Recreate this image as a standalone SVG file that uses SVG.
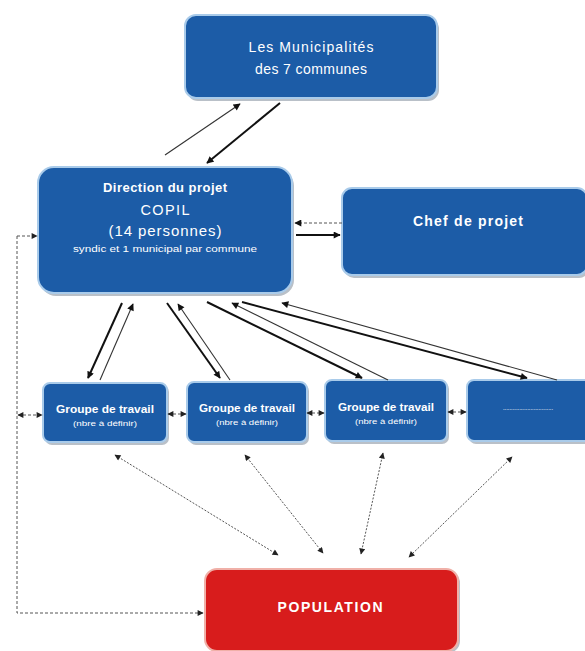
<svg xmlns="http://www.w3.org/2000/svg" width="585" height="651" viewBox="0 0 585 651">
<defs>
<marker id="ah" viewBox="0 0 10 10" refX="9" refY="5" markerWidth="8" markerHeight="7" markerUnits="userSpaceOnUse" orient="auto-start-reverse">
<path d="M0,0 L10,5 L0,10 z" fill="#111"/>
</marker>
<marker id="ahs" viewBox="0 0 10 10" refX="9" refY="5" markerWidth="7" markerHeight="6" markerUnits="userSpaceOnUse" orient="auto-start-reverse">
<path d="M0,0 L10,5 L0,10 z" fill="#222"/>
</marker>
</defs>
<style>
.box{fill:#1c5ca7;stroke:#a9cbea;stroke-width:2}
.red{fill:#d81c1c;stroke:#f0b0a8;stroke-width:2}
.sh{fill:#b9c0c8}
.t{font-family:"Liberation Sans",Arial,sans-serif;fill:#fff;text-anchor:middle}
.b{font-weight:bold}
.thick{stroke:#111;stroke-width:2;fill:none}
.thin{stroke:#333;stroke-width:1.1;fill:none}
.dot{stroke:#555;stroke-width:1;stroke-dasharray:2 1.5;fill:none}
.dash{stroke:#555;stroke-width:1;stroke-dasharray:3 2;fill:none}
</style>
<rect width="585" height="651" fill="#fff"/>

<g id="municipalites">
<rect class="sh" x="187" y="18" width="252" height="83" rx="11"/>
<rect class="box" x="185" y="15" width="252" height="83" rx="11"/>
<text class="t" x="311" y="52" font-size="14" textLength="125" lengthAdjust="spacing">Les Municipalités</text>
<text class="t" x="311" y="74" font-size="14" textLength="112" lengthAdjust="spacing">des 7 communes</text>
</g>

<g id="copil">
<rect class="sh" x="40" y="170" width="254" height="126" rx="16"/>
<rect class="box" x="38" y="167" width="254" height="126" rx="16"/>
<text class="t b" x="165" y="192" font-size="13" textLength="124" lengthAdjust="spacing">Direction du projet</text>
<text class="t" x="165" y="215" font-size="14.5" textLength="49" lengthAdjust="spacing">COPIL</text>
<text class="t" x="165" y="236" font-size="15" textLength="113" lengthAdjust="spacing">(14 personnes)</text>
<text class="t" x="165" y="252" font-size="8.5" textLength="184" lengthAdjust="spacingAndGlyphs">syndic et 1 municipal par commune</text>
</g>

<g id="chef">
<rect class="sh" x="344" y="191" width="245" height="87" rx="10"/>
<rect class="box" x="342" y="188" width="245" height="87" rx="10"/>
<text class="t b" x="468" y="226" font-size="14" textLength="110" lengthAdjust="spacing">Chef de projet</text>
</g>

<g id="groupe1">
<rect class="sh" x="45" y="385" width="124" height="60" rx="7"/>
<rect class="box" x="43" y="383" width="124" height="59" rx="7"/>
<text class="t b" x="105" y="413" font-size="11" textLength="98" lengthAdjust="spacingAndGlyphs">Groupe de travail</text>
<text class="t" x="105" y="426" font-size="7.5" textLength="64" lengthAdjust="spacingAndGlyphs">(nbre à définir)</text>
</g>

<g id="groupe2">
<rect class="sh" x="189" y="384" width="120" height="61" rx="7"/>
<rect class="box" x="187" y="382" width="120" height="60" rx="7"/>
<text class="t b" x="247" y="412" font-size="11" textLength="96" lengthAdjust="spacingAndGlyphs">Groupe de travail</text>
<text class="t" x="247" y="425" font-size="7.5" textLength="62" lengthAdjust="spacingAndGlyphs">(nbre à définir)</text>
</g>

<g id="groupe3">
<rect class="sh" x="327" y="382" width="122" height="62" rx="7"/>
<rect class="box" x="325" y="380" width="122" height="61" rx="7"/>
<text class="t b" x="386" y="411" font-size="11" textLength="96" lengthAdjust="spacingAndGlyphs">Groupe de travail</text>
<text class="t" x="386" y="424" font-size="7.5" textLength="62" lengthAdjust="spacingAndGlyphs">(nbre à définir)</text>
</g>

<g id="groupe4">
<rect class="sh" x="469" y="382" width="125" height="62" rx="7"/>
<rect class="box" x="467" y="380" width="125" height="61" rx="7"/>
<text class="t" x="528" y="410" font-size="7" textLength="50" lengthAdjust="spacingAndGlyphs">...............................</text>
</g>

<g id="population">
<rect class="sh" x="207" y="571" width="253" height="82" rx="12"/>
<rect class="red" x="205" y="569" width="253" height="82" rx="12"/>
<text class="t b" x="330" y="612" font-size="14" textLength="105" lengthAdjust="spacing">POPULATION</text>
</g>

<g id="connectors">
<line class="thin" x1="165" y1="155" x2="240" y2="104" marker-end="url(#ah)"/>
<line class="thick" x1="280" y1="103" x2="207" y2="163" marker-end="url(#ah)"/>
<line class="dash" x1="342" y1="223" x2="295" y2="223" marker-end="url(#ah)"/>
<line class="thick" x1="296" y1="235" x2="340" y2="235" marker-end="url(#ah)"/>
<line class="thick" x1="122" y1="303" x2="88" y2="378" marker-end="url(#ah)"/>
<line class="thin" x1="100" y1="380" x2="133" y2="304" marker-end="url(#ah)"/>
<line class="thick" x1="167" y1="303" x2="220" y2="378" marker-end="url(#ah)"/>
<line class="thin" x1="230" y1="380" x2="178" y2="304" marker-end="url(#ah)"/>
<line class="thick" x1="207" y1="302" x2="362" y2="378" marker-end="url(#ah)"/>
<line class="thin" x1="388" y1="380" x2="232" y2="303" marker-end="url(#ah)"/>
<line class="thick" x1="242" y1="302" x2="527" y2="378" marker-end="url(#ah)"/>
<line class="thin" x1="557" y1="380" x2="282" y2="303" marker-end="url(#ah)"/>
<line class="dash" x1="17" y1="236" x2="37" y2="236" marker-end="url(#ahs)"/>
<polyline class="dash" points="17,236 17,613 203,613" marker-end="url(#ahs)"/>
<line class="dash" x1="18" y1="415" x2="42" y2="415" marker-start="url(#ahs)" marker-end="url(#ahs)"/>
<line class="dash" x1="168" y1="414" x2="186" y2="414" marker-start="url(#ahs)" marker-end="url(#ahs)"/>
<line class="dash" x1="307" y1="413" x2="324" y2="413" marker-start="url(#ahs)" marker-end="url(#ahs)"/>
<line class="dash" x1="448" y1="412" x2="466" y2="412" marker-start="url(#ahs)" marker-end="url(#ahs)"/>
<line class="dot" x1="115" y1="455" x2="278" y2="555" marker-start="url(#ahs)" marker-end="url(#ahs)"/>
<line class="dot" x1="245" y1="455" x2="323" y2="553" marker-start="url(#ahs)" marker-end="url(#ahs)"/>
<line class="dot" x1="383" y1="453" x2="361" y2="554" marker-start="url(#ahs)" marker-end="url(#ahs)"/>
<line class="dot" x1="512" y1="457" x2="409" y2="557" marker-start="url(#ahs)" marker-end="url(#ahs)"/>
</g>
</svg>
